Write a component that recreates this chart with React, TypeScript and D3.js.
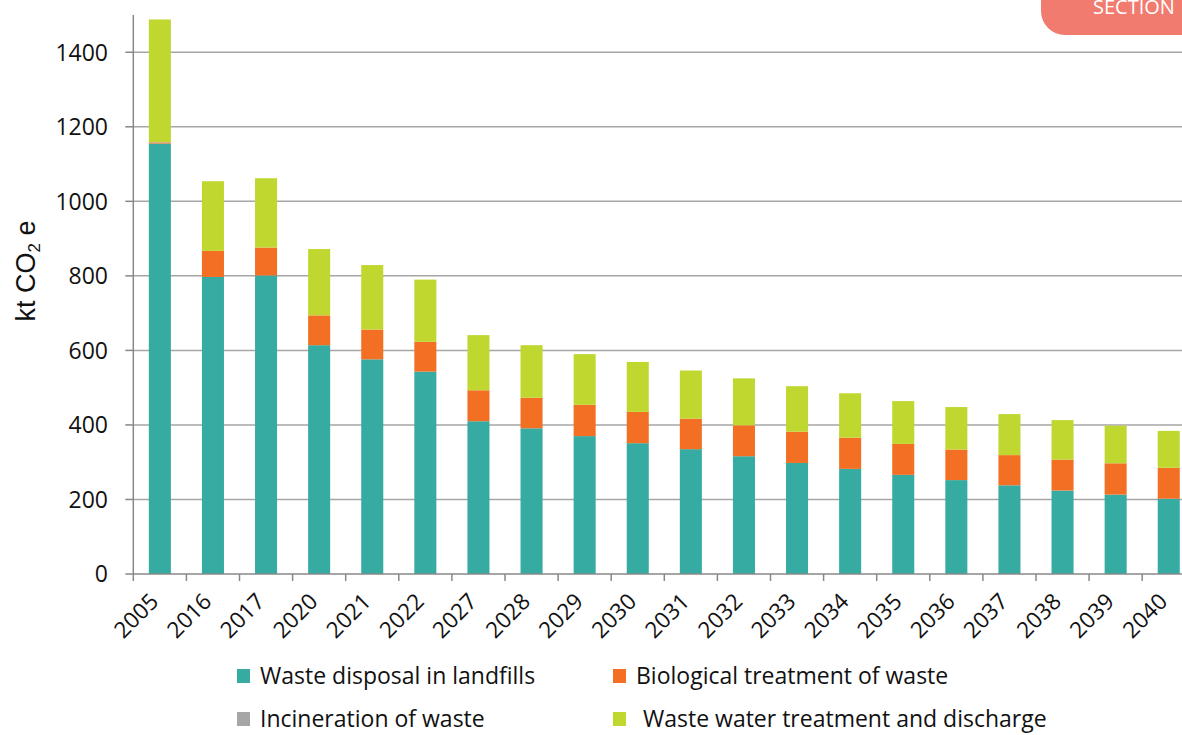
import React from 'react';
import * as d3 from 'd3';

const years = ['2005', '2016', '2017', '2020', '2021', '2022', '2027', '2028', '2029', '2030',
  '2031', '2032', '2033', '2034', '2035', '2036', '2037', '2038', '2039', '2040'];

// kt CO2 e per source
const landfills = [1155, 797, 801, 614, 576, 543, 410, 391, 370, 351, 335, 316, 298, 282, 266, 252, 238, 224, 213, 202];
const biological = [3, 70, 75, 80, 80, 80, 83, 82, 84, 84, 82, 83, 84, 84, 83, 82, 81, 83, 84, 83];
const incineration = [1, 0, 0, 0, 0, 0, 0, 0, 0, 0, 0, 0, 0, 0, 0, 0, 0, 0, 0, 0];
const wasteWater = [329, 187, 186, 178, 173, 167, 148, 141, 136, 134, 129, 126, 122, 119, 115, 114, 110, 106, 101, 99];

const yTicks = [0, 200, 400, 600, 800, 1000, 1200, 1400];

const seriesNames = ['Waste disposal in landfills', 'Biological treatment of waste', 'Incineration of waste', 'Waste water treatment and discharge'];
const seriesColors = ['#36aba2', '#f36f23', '#a6a6a6', '#c0d730'];

const W = 1182;
const H = 735;
const x0 = 133.3;
const step = 53.1;
const yTop = 15;
const yBottom = 574;

export default function App() {
  const rows = years.map((year, i) => ({
    year,
    landfills: landfills[i],
    biological: biological[i],
    incineration: incineration[i],
    wasteWater: wasteWater[i],
  }));
  const keys = ['landfills', 'biological', 'incineration', 'wasteWater'];
  const stacked = d3.stack<any>().keys(keys)(rows);

  const x = d3.scaleBand<string>()
    .domain(years)
    .range([x0, x0 + step * years.length])
    .paddingInner(0.585)
    .paddingOuter(0.2925);

  const y = d3.scaleLinear().domain([0, 1500]).range([yBottom, yTop]);

  const font = '"Open Sans", sans-serif';

  return (
    <svg width={W} height={H} style={{ position: 'absolute', left: 0, top: 0, background: '#fff' }}>
      {/* section badge */}
      <rect x={1041} y={-40} width={200} height={75} rx={24} fill="#f07b6e" />
      <text x={1093} y={14} fill="#fff" fontFamily={font} fontSize={20}>SECTION</text>

      {/* grid */}
      {yTicks.filter(t => t > 0).map(t => (
        <line key={t} x1={x0} x2={W} y1={y(t)} y2={y(t)} stroke="#a6a6a6" strokeWidth={1.5} />
      ))}

      {/* bars */}
      {stacked.map((s, si) => (
        <g key={s.key} fill={seriesColors[si]}>
          {s.map((d, i) => (
            d[1] - d[0] > 0 ? (
              <rect key={i} x={x(years[i])} width={x.bandwidth()} y={y(d[1])} height={y(d[0]) - y(d[1])} />
            ) : null
          ))}
        </g>
      ))}

      {/* axes */}
      <line x1={x0} x2={x0} y1={yTop} y2={yBottom} stroke="#888" strokeWidth={1.5} />
      <line x1={x0} x2={W} y1={yBottom} y2={yBottom} stroke="#888" strokeWidth={1.5} />
      {yTicks.map(t => (
        <g key={t}>
          <line x1={x0 - 8} x2={x0} y1={y(t)} y2={y(t)} stroke="#888" strokeWidth={1.5} />
          <text x={108} y={y(t)} dy="0.36em" textAnchor="end" fontFamily={font} fontSize={23} fill="#111">{t}</text>
        </g>
      ))}
      {d3.range(years.length + 1).map(i => (
        <line key={i} x1={x0 + i * step} x2={x0 + i * step} y1={yBottom} y2={yBottom + 7} stroke="#888" strokeWidth={1.5} />
      ))}
      {years.map(yr => {
        const cx = (x(yr) as number) + x.bandwidth() / 2;
        return (
          <text key={yr} transform={`translate(${cx},${603}) rotate(-45)`} textAnchor="end"
            fontFamily={font} fontSize={22.5} fill="#111">{yr}</text>
        );
      })}

      {/* y label */}
      <text transform={`translate(35,${271}) rotate(-90)`} textAnchor="middle" fontFamily='"Liberation Sans", Arial, sans-serif' fontSize={27} fill="#111">
        kt CO<tspan fontSize={17} dy={5}>2</tspan><tspan dy={-5}> e</tspan>
      </text>

      {/* legend */}
      {seriesNames.map((name, i) => {
        const col = i % 2;
        const row = Math.floor(i / 2);
        const lx = col === 0 ? 237 : 613;
        const ly = row === 0 ? 676 : 719;
        const tx = i === 3 ? 643 : lx + 23;
        return (
          <g key={name}>
            <rect x={lx} y={ly - 7} width={13} height={14} fill={seriesColors[i]} />
            <text x={tx} y={ly} dy="0.35em" fontFamily={font} fontSize={23} fill="#111">{name}</text>
          </g>
        );
      })}
    </svg>
  );
}
